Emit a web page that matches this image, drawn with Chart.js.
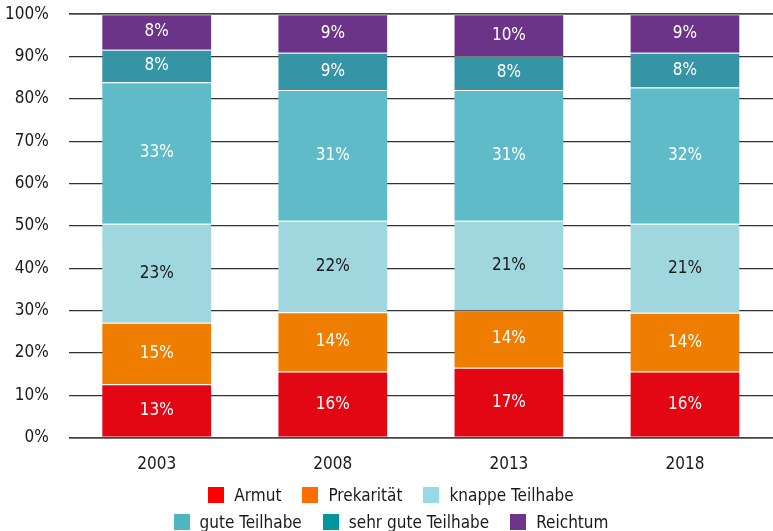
<!DOCTYPE html>
<html lang="de">
<head>
<meta charset="utf-8">
<script src="https://cdn.jsdelivr.net/npm/chart.js@4/dist/chart.umd.min.js"></script>
<style>
    body { margin: 0; background: #fff; font-family: "Liberation Sans Narrow", "DejaVu Sans Condensed", "Roboto", sans-serif; }
    #wrap { width: 773px; height: 492px; position: absolute; left: 0; top: 0; }
    #legend { position: absolute; left: 18px; top: 481px; width: 746px; font-size: 17px; color: #1a1a1a; }
    .row { display: flex; justify-content: center; height: 27px; }
    .item { display: flex; align-items: center; margin: 0 10.5px; }
    .box { width: 16px; height: 16px; margin-right: 10px; }
</style>
</head>
<body>
<div id="wrap"><canvas id="chart"></canvas></div>
<div id="legend"></div>
<script>
const fontFamily = '"Liberation Sans Narrow", "DejaVu Sans Condensed", "Roboto", sans-serif';

// years on the x axis
const years = ['2003', '2008', '2013', '2018'];

// shares in percent
const armut = [12.6, 15.6, 16.5, 15.6];
const prekaritaet = [14.5, 14.0, 13.6, 13.9];
const knappeTeilhabe = [23.4, 21.6, 21.1, 21.0];
const guteTeilhabe = [33.4, 30.9, 30.9, 32.2];
const sehrGuteTeilhabe = [7.7, 8.8, 8.0, 8.2];
const reichtum = [8.4, 9.1, 9.9, 9.1];

const yTicks = [0, 10, 20, 30, 40, 50, 60, 70, 80, 90, 100];

const series = [
    { label: 'Armut', data: armut, color: '#e30613', legendColor: '#ff0000', text: '#ffffff' },
    { label: 'Prekarität', data: prekaritaet, color: '#ef7d00', legendColor: '#ff6c00', text: '#ffffff' },
    { label: 'knappe Teilhabe', data: knappeTeilhabe, color: '#a0d6de', legendColor: '#93dce6', text: '#1a1a1a' },
    { label: 'gute Teilhabe', data: guteTeilhabe, color: '#5fbbc8', legendColor: '#4db6bf', text: '#ffffff' },
    { label: 'sehr gute Teilhabe', data: sehrGuteTeilhabe, color: '#3595a4', legendColor: '#00979f', text: '#ffffff' },
    { label: 'Reichtum', data: reichtum, color: '#6c3489', legendColor: '#6f3487', text: '#ffffff' }
];

// legend rows as in the original
const legendRows = [[0, 1, 2], [3, 4, 5]];

// draws the rounded percent value in the middle of each segment
const segmentLabels = {
    id: 'segmentLabels',
    afterDatasetsDraw(chart) {
        const ctx = chart.ctx;
        ctx.save();
        ctx.font = '17px ' + fontFamily;
        ctx.textAlign = 'center';
        ctx.textBaseline = 'middle';
        chart.data.datasets.forEach((ds, i) => {
            const meta = chart.getDatasetMeta(i);
            meta.data.forEach((bar, j) => {
                const mid = (bar.y + bar.base) / 2;
                ctx.fillStyle = series[i].text;
                ctx.fillText(Math.round(ds.data[j]) + '%', bar.x, mid);
            });
        });
        ctx.restore();
    }
};

const chart = new Chart(document.getElementById('chart'), {
    type: 'bar',
    data: {
        labels: years,
        datasets: series.map(s => ({
            label: s.label,
            data: s.data,
            backgroundColor: s.color,
            borderColor: 'rgba(255,255,255,0.35)',
            borderWidth: { top: 1, bottom: 0, left: 0, right: 0 },
            borderSkipped: false,
            barPercentage: 0.62,
            categoryPercentage: 1
        }))
    },
    options: {
        responsive: true,
        maintainAspectRatio: false,
        animation: false,
        layout: { padding: { top: 3, left: 1, right: 0, bottom: 0 } },
        plugins: {
            legend: { display: false },
            tooltip: { enabled: false }
        },
        scales: {
            x: {
                stacked: true,
                grid: { display: false, drawTicks: false },
                border: { display: false },
                ticks: { color: '#1a1a1a', padding: 17, font: { family: fontFamily, size: 17 } }
            },
            y: {
                stacked: true,
                min: 0,
                max: 100,
                afterBuildTicks: axis => { axis.ticks = yTicks.map(v => ({ value: v })); },
                grid: {
                    drawTicks: true,
                    tickLength: 16,
                    tickColor: 'rgba(0,0,0,0)',
                    color: c => (c.tick.value === 0 || c.tick.value === 100) ? '#444' : '#333',
                    lineWidth: c => (c.tick.value === 0 || c.tick.value === 100) ? 1.8 : 1.2
                },
                border: { display: false },
                ticks: {
                    color: '#1a1a1a',
                    padding: 4,
                    font: { family: fontFamily, size: 17 },
                    callback: v => v + '%'
                }
            }
        }
    },
    plugins: [segmentLabels]
});

// legend built from the same series list
const legend = document.getElementById('legend');
legendRows.forEach(rowIdx => {
    const row = document.createElement('div');
    row.className = 'row';
    rowIdx.forEach(i => {
        const s = series[i];
        const item = document.createElement('div');
        item.className = 'item';
        const box = document.createElement('span');
        box.className = 'box';
        box.style.background = s.legendColor;
        const txt = document.createElement('span');
        txt.textContent = s.label;
        item.appendChild(box);
        item.appendChild(txt);
        row.appendChild(item);
    });
    legend.appendChild(row);
});
</script>
</body>
</html>
